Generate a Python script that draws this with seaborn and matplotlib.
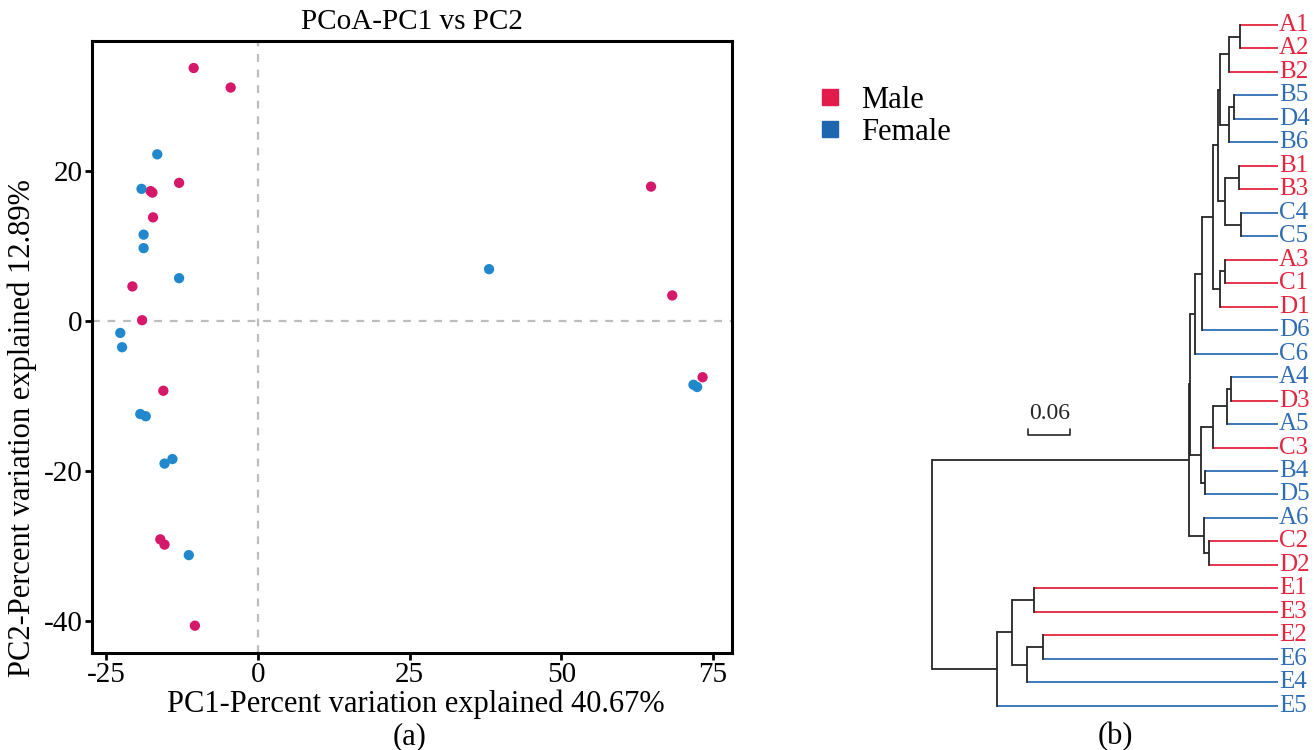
import numpy as np
import pandas as pd
import matplotlib
matplotlib.use("Agg")
import matplotlib.pyplot as plt
import matplotlib.transforms as mtransforms
from matplotlib.lines import Line2D
import seaborn as sns

# ---------------- data ----------------
male_x = [-10.6, -4.5, -13.0, -17.7, -17.4, -17.3, -20.7, -19.1, -15.6, -16.1, -15.4, -10.4, 64.8, 68.3, 73.3]
male_y = [33.7, 31.1, 18.4, 17.3, 17.1, 13.8, 4.6, 0.1, -9.3, -29.1, -29.8, -40.6, 17.9, 3.4, -7.5]
female_x = [-16.6, -19.2, -18.85, -18.85, -13.0, -22.7, -22.4, -19.4, -18.5, -15.4, -14.1, -11.4, 38.1, 71.8, 72.4]
female_y = [22.2, 17.6, 11.5, 9.7, 5.7, -1.6, -3.5, -12.4, -12.7, -19.0, -18.4, -31.2, 6.9, -8.5, -8.8]

x_ticks = [-25, 0, 25, 50, 75]
y_ticks = [-40, -20, 0, 20]

leaves = ["A1", "A2", "B2", "B5", "D4", "B6", "B1", "B3", "C4", "C5", "A3", "C1", "D1",
          "D6", "C6", "A4", "D3", "A5", "C3", "B4", "D5", "A6", "C2", "D2",
          "E1", "E3", "E2", "E6", "E4", "E5"]
male_leaves = ["A1", "A2", "B2", "B1", "B3", "A3", "C1", "D1", "D3", "C3", "C2", "D2",
               "E1", "E3", "E2"]
# merges: (child1, child2, height, node name)
merge_a = ["A1", "n1", "B5", "n3", "n2", "B1", "C4", "n6", "n5", "A3", "n10", "n9", "n12", "n13",
           "A4", "n15", "n16", "B4", "n17", "C2", "A6", "n14", "n22", "E1", "E2", "n25", "n24", "n27", "n23"]
merge_b = ["A2", "B2", "D4", "B6", "n4", "B3", "C5", "n7", "n8", "C1", "D1", "n11", "D6", "C6",
           "D3", "A5", "C3", "D5", "n18", "D2", "n20", "n19", "n21", "E3", "E6", "E4", "n26", "E5", "n28"]
merge_h = [0.0539, 0.0696, 0.0620, 0.0689, 0.0824, 0.0553, 0.0524, 0.0753, 0.0846, 0.0753, 0.0829,
           0.0927, 0.1077, 0.1177, 0.0671, 0.0720, 0.0920, 0.1043, 0.1091, 0.0977, 0.1049,
           0.1249, 0.1263, 0.3477, 0.3349, 0.3586, 0.3800, 0.4006, 0.4934]
merge_name = ["n%d" % (i + 1) for i in range(len(merge_h))]
scale_len = 0.06

# ---------------- style ----------------
sns.set_theme(style="white")
plt.rcParams["font.family"] = ["Liberation Serif", "DejaVu Serif"]
plt.rcParams["text.color"] = "black"
plt.rcParams["xtick.color"] = "black"
plt.rcParams["ytick.color"] = "black"
plt.rcParams["xtick.labelcolor"] = "black"
plt.rcParams["ytick.labelcolor"] = "black"

W, H = 1314, 750
fig = plt.figure(figsize=(W / 100, H / 100), dpi=100)
fig.patch.set_facecolor("white")


def rect(l, t, r, b):
    return [l / W, 1 - b / H, (r - l) / W, (b - t) / H]


# ---------------- PCoA scatter ----------------
df = pd.DataFrame({
    "PC1": male_x + female_x,
    "PC2": male_y + female_y,
    "Sex": ["Male"] * len(male_x) + ["Female"] * len(female_x),
})
pal = {"Male": "#D5186A", "Female": "#2288CE"}
ax = fig.add_axes(rect(92, 41, 731.7, 652.7))
ax.axhline(0, color="#BDBDBD", lw=1.6, dashes=(3.5, 3.5), zorder=1)
ax.axvline(0, color="#BDBDBD", lw=1.6, dashes=(3.5, 3.5), zorder=1)
sns.scatterplot(data=df, x="PC1", y="PC2", hue="Sex", palette=pal, s=55,
                edgecolor="none", linewidth=0, legend=False, ax=ax, zorder=3)
ax.set_xlim(-27.36, 78.1)
ax.set_ylim(-44.2, 37.3)
ax.set_xticks(x_ticks)
ax.set_yticks(y_ticks)
ax.set_xticklabels([str(v) for v in x_ticks])
ax.set_yticklabels([str(v) for v in y_ticks])
ax.set_xlabel("")
ax.set_ylabel("")
for s in ax.spines.values():
    s.set_visible(True)
    s.set_color("black")
    s.set_linewidth(2.2)
ax.tick_params(axis="both", which="both", direction="out", length=5, width=2,
               color="black", labelcolor="black", labelsize=21, pad=2,
               bottom=True, left=True)
ax.set_facecolor("white")

fig.text(412 / W, 1 - 22 / H, "PCoA-PC1 vs PC2", ha="center", va="center", fontsize=21)
fig.text(416 / W, 1 - 704 / H, "PC1-Percent variation explained 40.67%",
         ha="center", va="center", fontsize=22)
fig.text(22 / W, 1 - 428 / H, "PC2-Percent variation explained 12.89%",
         ha="center", va="center", rotation=90, fontsize=22)
fig.text(410 / W, 1 - 737 / H, "(a)", ha="center", va="center", fontsize=22)
fig.text(1115 / W, 1 - 737 / H, "(b)", ha="center", va="center", fontsize=22)

# legend
handles = [Line2D([0], [0], marker="s", linestyle="none", markersize=11,
                  markerfacecolor=c, markeredgecolor=c)
           for c in ["#E31B4B", "#1F66B0"]]
fig.legend(handles, ["Male", "Female"], loc="upper left",
           bbox_to_anchor=(818 / W, 1 - 86 / H), frameon=False, fontsize=22,
           handlelength=0.8, handletextpad=0.6, labelspacing=0.1,
           borderpad=0, borderaxespad=0)

# ---------------- dendrogram ----------------
male_col = "#E5253F"
female_col = "#2F6DB5"
branch_col = "#262626"
leaf_top, leaf_bot = 25.0, 705.7
step = (leaf_bot - leaf_top) / (len(leaves) - 1)
leaf_x_px = 1277.7
px_per_unit = 700.0
left_px = 915.0
dax = fig.add_axes(rect(left_px, leaf_top - step / 2, leaf_x_px, leaf_bot + step / 2))
dax.set_xlim((leaf_x_px - left_px) / px_per_unit, 0)
dax.set_ylim(len(leaves) - 0.5, -0.5)
dax.axis("off")

ypos = {name: i for i, name in enumerate(leaves)}
hpos = {name: 0.0 for name in leaves}
for a, b, h, nm in zip(merge_a, merge_b, merge_h, merge_name):
    for c in (a, b):
        col = (male_col if c in male_leaves else female_col) if c in leaves else branch_col
        dax.plot([hpos[c], h], [ypos[c], ypos[c]], color=col, lw=1.3,
                 solid_capstyle="butt", zorder=2)
    dax.plot([h, h], [ypos[a], ypos[b]], color=branch_col, lw=1.3,
             solid_capstyle="projecting", zorder=3)
    ypos[nm] = (ypos[a] + ypos[b]) / 2
    hpos[nm] = h

off = mtransforms.offset_copy(dax.transData, fig=fig, x=1.5, y=0, units="dots")
for i, name in enumerate(leaves):
    dax.text(0, i, name, transform=off, ha="left", va="center", fontsize=18,
             color=male_col if name in male_leaves else female_col, clip_on=False)

# scale bar
sb_y = (435 - leaf_top) / step
sb_x0 = (leaf_x_px - 1028.3) / px_per_unit
tick_h = 0.25
dax.plot([sb_x0, sb_x0, sb_x0 - scale_len, sb_x0 - scale_len],
         [sb_y - tick_h, sb_y, sb_y, sb_y - tick_h], color=branch_col, lw=1.2)
dax.text(sb_x0 - scale_len / 2, sb_y - 0.45, "%.2f" % scale_len, ha="center",
         va="bottom", fontsize=17, color=branch_col)

fig.savefig("out.png", dpi=100, facecolor="white")
